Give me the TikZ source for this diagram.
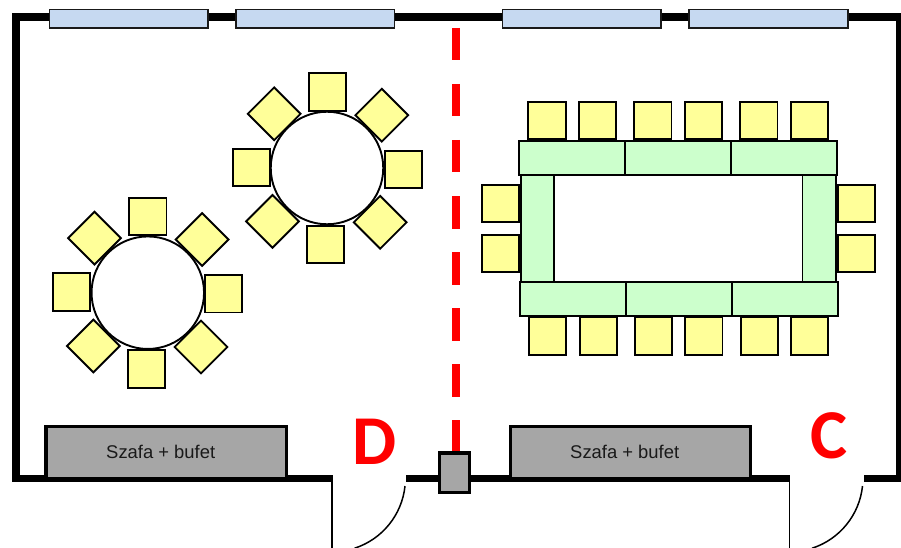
\documentclass[tikz,border=0pt]{standalone}
\usepackage{fontspec}
\setmainfont{Liberation Sans}
\newfontfamily\letterfont{Carlito}
\begin{document}
\begin{tikzpicture}[x=1pt,y=-1pt,
  wall/.style={line width=7.8pt,line cap=butt,line join=miter},
  swing/.style={line width=1.5pt},
  winbox/.style={draw=black!90,fill=winblue,line width=1.8pt,minimum width=158.5pt,minimum height=18.5pt,inner sep=0pt},
  chair/.style={draw=black,fill=chairyellow,line width=1.9pt,minimum size=37.3pt,inner sep=0pt},
  diachair/.style={chair,rotate=45},
  tabletop/.style={draw=black,fill=white,circle,line width=1.9pt,minimum size=112.5pt,inner sep=0pt},
  seg/.style={draw=black,fill=tablegreen,line width=1.9pt,inner sep=0pt},
  hseg/.style={seg,minimum width=106pt,minimum height=33.6pt},
  vseg/.style={seg,minimum width=33.5pt,minimum height=106.5pt},
  cupboard/.style={draw=black,fill=cupgray,line width=3.4pt,inner sep=0pt,minimum width=240.5pt,minimum height=51.5pt},
  cuplabel/.style={font=\fontsize{18.4pt}{20pt}\selectfont,text=black!90},
  pillar/.style={draw=black,fill=cupgray,line width=3.4pt,inner sep=0pt,minimum width=30pt,minimum height=39.5pt},
  doorletter/.style={text=red,inner sep=0pt,font=\letterfont\bfseries\fontsize{70pt}{70pt}\selectfont}]
\definecolor{winblue}{HTML}{C6D9F1}
\definecolor{chairyellow}{HTML}{FFFF99}
\definecolor{tablegreen}{HTML}{CCFFCC}
\definecolor{cupgray}{HTML}{A6A6A6}
\useasboundingbox (0,0) rectangle (901,548);
\clip (0,0) rectangle (901,548);
% walls
\coordinate (wd) at (332,478.5);
\coordinate (we) at (406,478.5);
\coordinate (wf) at (789.5,478.5);
\coordinate (wg) at (863.5,478.5);
\draw[wall] (332.5,478.5) -- (15.8,478.5) -- (15.8,17.3) -- (900,17.3) -- (900,478.5) -- (wg);
\draw[wall] (we) -- (wf);
% door swings
\coordinate (jd) at (332,548);
\coordinate (je) at (789.5,548);
\draw[swing] (wd) -- (jd);
\draw[swing] (wf) -- (je);
\draw[swing] (405,486) arc[start angle=6,end angle=72,radius=73.5];
\draw[swing] (862.5,486) arc[start angle=6,end angle=72,radius=73.5];
% partition
\coordinate (pa) at (456,28);
\coordinate (pb) at (456,453);
\draw[red,line width=8pt,dash pattern=on 32.5pt off 23.5pt] (pa) -- (pb);
% windows
\node[winbox] (w1) at (128.8,18.7) {};
\node[winbox] (w2) at (315.3,18.7) {};
\node[winbox] (w3) at (581.8,18.7) {};
\node[winbox] (w4) at (768.5,18.7) {};
% fixtures
\node[cupboard] (c1) at (166.3,452.5) {};
\node[cupboard] (c2) at (630.5,452.5) {};
\node[cuplabel] (t1) at (160.7,452) {Szafa + bufet};
\node[cuplabel] (t2) at (624.7,452) {Szafa + bufet};
\node[pillar] (p) at (454.2,472.7) {};
\node[doorletter] (D) at (374.5,441.5) {D};
\node[doorletter] (C) at (829,436) {C};
% round table A
\node[chair] (a1) at (327.5,92) {};
\node[chair] (a2) at (251.2,167.7) {};
\node[chair] (a3) at (403.2,169.5) {};
\node[chair] (a4) at (325.5,244.3) {};
\node[diachair] (a5) at (274.2,113.8) {};
\node[diachair] (a6) at (381.8,115.2) {};
\node[diachair] (a7) at (272.5,221.3) {};
\node[diachair] (a8) at (380.2,222.3) {};
\node[tabletop] (ta) at (327,168) {};
% round table B
\node[chair] (b1) at (147.8,216.7) {};
\node[chair] (b2) at (71.7,292) {};
\node[chair] (b3) at (223.7,293.8) {};
\node[chair] (b4) at (146.3,369) {};
\node[diachair] (b5) at (94.5,238.2) {};
\node[diachair] (b6) at (202.2,239.5) {};
\node[diachair] (b7) at (93.3,346) {};
\node[diachair] (b8) at (201,347) {};
\node[tabletop] (tb) at (147.8,292.7) {};
% long table chairs
\foreach \n/\x in {1/547,2/597.7,3/652.8,4/703.3,5/758.8,6/809.2}
  \node[chair] (u\n) at (\x,120.5) {};
\foreach \n/\x in {1/547.5,2/598.2,3/653.3,4/703.8,5/759.3,6/809.7}
  \node[chair] (d\n) at (\x,336) {};
\node[chair] (l1) at (500.3,203.2) {};
\node[chair] (l2) at (500.3,253.3) {};
\node[chair] (r1) at (856.3,203.5) {};
\node[chair] (r2) at (856.3,253.7) {};
% long table
\node[vseg] (s1) at (537.3,228.2) {};
\node[vseg] (s2) at (819.2,228.2) {};
\node[hseg] (s3) at (572.3,158) {};
\node[hseg] (s4) at (678,158) {};
\node[hseg] (s5) at (783.7,158) {};
\node[hseg] (s6) at (573,299) {};
\node[hseg] (s7) at (679,299) {};
\node[hseg] (s8) at (784.8,299) {};
\end{tikzpicture}
\end{document}
